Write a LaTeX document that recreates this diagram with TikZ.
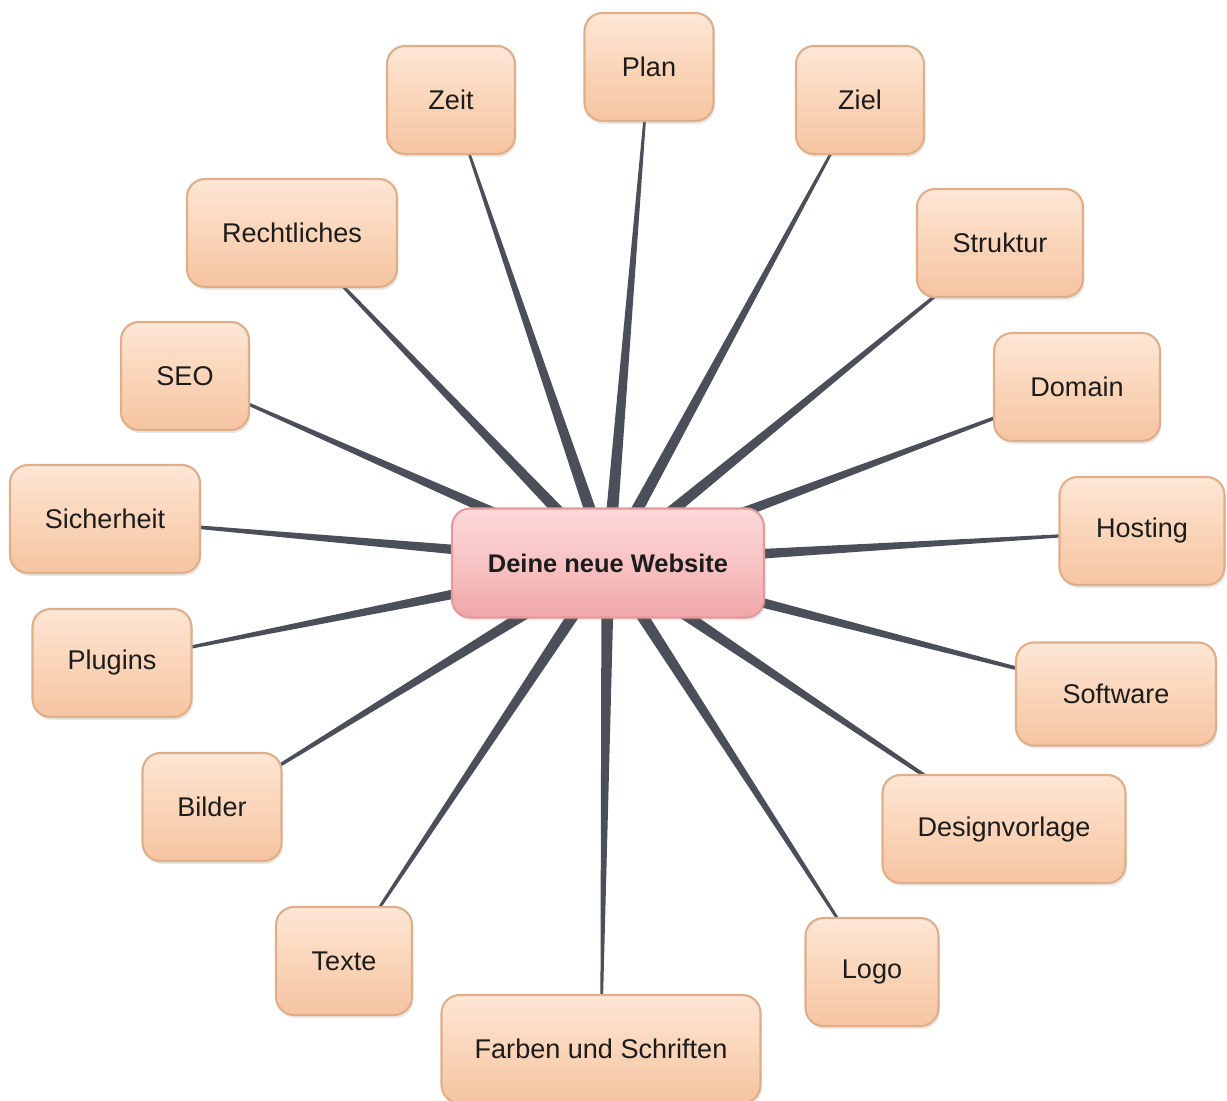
\documentclass[tikz,border=0pt]{standalone}
\usepackage{fontspec}
\setmainfont{Liberation Sans}
\usetikzlibrary{calc,shadows}
\pgfdeclarelayer{background}
\pgfsetlayers{background,main}
\definecolor{spokecol}{HTML}{4A4F59}
\definecolor{leaftop}{HTML}{FDE7D6}
\definecolor{leafmid}{HTML}{FAD5B9}
\definecolor{leafbot}{HTML}{F6C4A2}
\definecolor{leafline}{HTML}{E1AE8A}
\definecolor{ctop}{HTML}{FCD8D8}
\definecolor{cmid}{HTML}{F8C3C4}
\definecolor{cbot}{HTML}{F0A6A8}
\definecolor{cline}{HTML}{E4999B}
\definecolor{txt}{HTML}{1C1C1C}
\newcommand\spoke[2]{%
  \fill[spokecol] ($(#1)!0.13cm!90:(#2)$) -- ($(#2)!0.014cm!-90:(#1)$)
     -- ($(#2)!0.014cm!90:(#1)$) -- ($(#1)!0.13cm!-90:(#2)$) -- cycle;}
\begin{document}
\begin{tikzpicture}[x=0.02cm,y=-0.02cm,
  leaf/.style={rounded corners=0.36cm, draw=leafline, line width=1.2pt,
    top color=leaftop, bottom color=leafbot, middle color=leafmid,
    minimum height=2.16cm, inner sep=0pt, text=txt,
    font=\fontsize{15.4}{18}\selectfont,
    drop shadow={opacity=0.18, shadow xshift=0.03cm, shadow yshift=-0.06cm}},
  hub/.style={rounded corners=0.36cm, draw=cline, line width=1.2pt,
    top color=ctop, bottom color=cbot, middle color=cmid,
    minimum height=2.18cm, minimum width=6.24cm, inner sep=0pt, text=txt,
    font=\fontsize{14.5}{17}\selectfont\bfseries,
    drop shadow={opacity=0.18, shadow xshift=0.03cm, shadow yshift=-0.06cm}}]
\useasboundingbox (0,0) rectangle (1227,1101);
\node[hub] (c) at (608,563) {Deine neue Website};
\node[leaf, minimum width=2.58cm] (plan) at (649,67) {Plan};
\node[leaf, minimum width=2.56cm] (zeit) at (451,100) {Zeit};
\node[leaf, minimum width=2.56cm] (ziel) at (860,100) {Ziel};
\node[leaf, minimum width=4.20cm] (recht) at (292,233) {Rechtliches};
\node[leaf, minimum width=3.32cm] (struk) at (1000,243) {Struktur};
\node[leaf, minimum width=2.56cm] (seo) at (185,376) {SEO};
\node[leaf, minimum width=3.32cm] (domain) at (1077,387) {Domain};
\node[leaf, minimum width=3.80cm] (sich) at (105,519) {Sicherheit};
\node[leaf, minimum width=3.30cm] (host) at (1142,531) {Hosting};
\node[leaf, minimum width=3.18cm] (plug) at (112,663) {Plugins};
\node[leaf, minimum width=4.00cm, minimum height=2.06cm] (soft) at (1116,694) {Software};
\node[leaf, minimum width=2.78cm] (bild) at (212,807) {Bilder};
\node[leaf, minimum width=4.86cm] (design) at (1004,829) {Designvorlage};
\node[leaf, minimum width=2.72cm] (texte) at (344,961) {Texte};
\node[leaf, minimum width=2.66cm] (logo) at (872,972) {Logo};
\node[leaf, minimum width=6.38cm] (farben) at (601,1049) {Farben und Schriften};
\begin{pgfonlayer}{background}
\foreach \n in {plan,zeit,ziel,recht,struk,seo,domain,sich,host,plug,soft,bild,design,texte,logo,farben}
  {\spoke{c}{\n}}
\end{pgfonlayer}
\end{tikzpicture}
\end{document}
